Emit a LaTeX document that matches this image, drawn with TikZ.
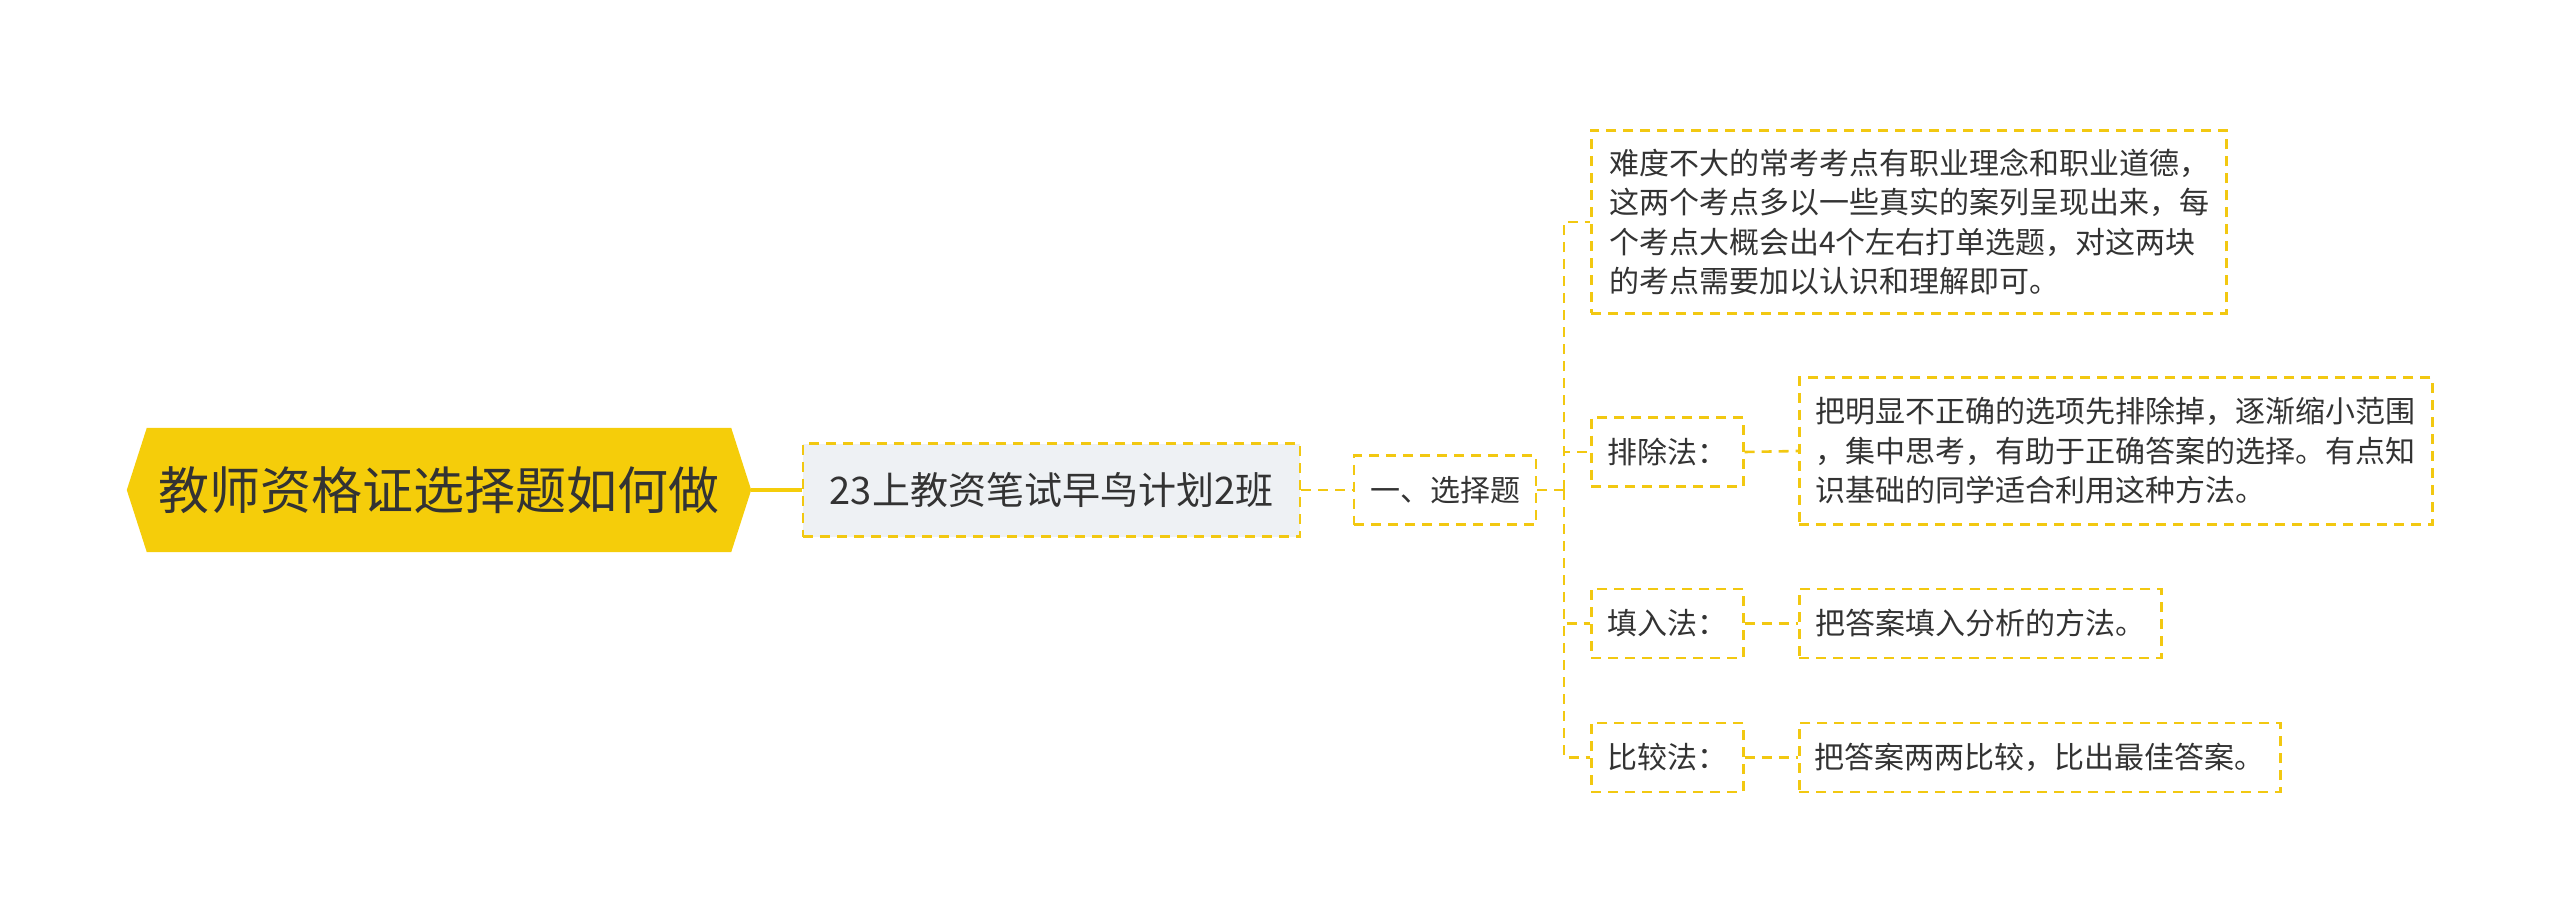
\documentclass[tikz,border=0pt]{standalone}
\usepackage{fontspec}
\setmainfont{Noto Sans CJK SC}
\usetikzlibrary{backgrounds}
\definecolor{ylw}{HTML}{F5CD0A}
\definecolor{ylwline}{HTML}{F2C811}
\definecolor{txt}{HTML}{333333}
\definecolor{grayfill}{HTML}{EEF1F4}
\tikzset{
  box/.style={draw=ylwline, line width=2.6pt, dash pattern=on 10pt off 7pt, text=txt,
    inner xsep=0pt, inner ysep=0pt, anchor=north west, align=left},
  conn/.style={draw=ylwline, line width=2.6pt, dash pattern=on 10pt off 7pt},
  solidconn/.style={draw=ylw, line width=4pt},
  leaffont/.style={font=\fontsize{30}{39.5}\selectfont},
}
\begin{document}
\begin{tikzpicture}[x=1pt,y=-1pt]
\useasboundingbox (0,0) rectangle (2560,921);
% root
\node[text=txt, font=\fontsize{51}{60}\selectfont, minimum width=624pt, minimum height=124pt, inner sep=0pt] (root) at (439,490) {教师资格证选择题如何做};
\begin{scope}[on background layer]
\fill[ylw] (root.west) -- ([xshift=20pt]root.north west) -- ([xshift=-20pt]root.north east) -- (root.east) -- ([xshift=-20pt]root.south east) -- ([xshift=20pt]root.south west) -- cycle;
\end{scope}
% level 1
\node[box, fill=grayfill, anchor=center, align=center, minimum width=497pt, minimum height=93pt, font=\fontsize{38}{46}\selectfont] (c23) at (1051.5,490) {23上教资笔试早鸟计划2班};
\node[box, anchor=center, align=center, minimum width=182pt, minimum height=69pt, leaffont] (xuan) at (1445,490) {一、选择题};
% leaves
\node[box, leaffont, minimum width=635pt, minimum height=183pt, text width=635pt-36pt, inner xsep=18pt] (leaf1) at (1590,129) {难度不大的常考考点有职业理念和职业道德，\\这两个考点多以一些真实的案列呈现出来，每\\个考点大概会出4个左右打单选题，对这两块\\的考点需要加以认识和理解即可。};
\node[box, leaffont, minimum width=152pt, minimum height=69pt, anchor=west, align=center] (pc) at (1590,452) {排除法：};
\node[box, leaffont, minimum width=633pt, minimum height=147pt, text width=633pt-32pt, inner xsep=16pt, anchor=west] (d1) at (1798,451) {把明显不正确的选项先排除掉，逐渐缩小范围\\，集中思考，有助于正确答案的选择。有点知\\识基础的同学适合利用这种方法。};
\node[box, leaffont, minimum width=152pt, minimum height=69pt, anchor=west, align=center] (tr) at (1590,623.5) {填入法：};
\node[box, leaffont, minimum width=362pt, minimum height=69pt, anchor=west, align=center] (d2) at (1798,623.5) {把答案填入分析的方法。};
\node[box, leaffont, minimum width=152pt, minimum height=69pt, anchor=west, align=center] (bj) at (1590,757.5) {比较法：};
\node[box, leaffont, minimum width=481pt, minimum height=69pt, anchor=west, align=center] (d3) at (1798,757.5) {把答案两两比较，比出最佳答案。};
% connectors
\draw[solidconn] (root.east) -- (c23.west);
\draw[conn] (c23.east) -- (xuan.west);
\coordinate (j) at (1564,490);
\draw[conn] (xuan.east) -- (j);
\draw[conn] (j) |- (leaf1.west);
\draw[conn] (j) |- (pc.west);
\draw[conn] (j) |- (tr.west);
\draw[conn] (j) |- (bj.west);
\draw[conn] (pc.east) -- (d1.west);
\draw[conn] (tr.east) -- (d2.west);
\draw[conn] (bj.east) -- (d3.west);
\end{tikzpicture}
\end{document}
